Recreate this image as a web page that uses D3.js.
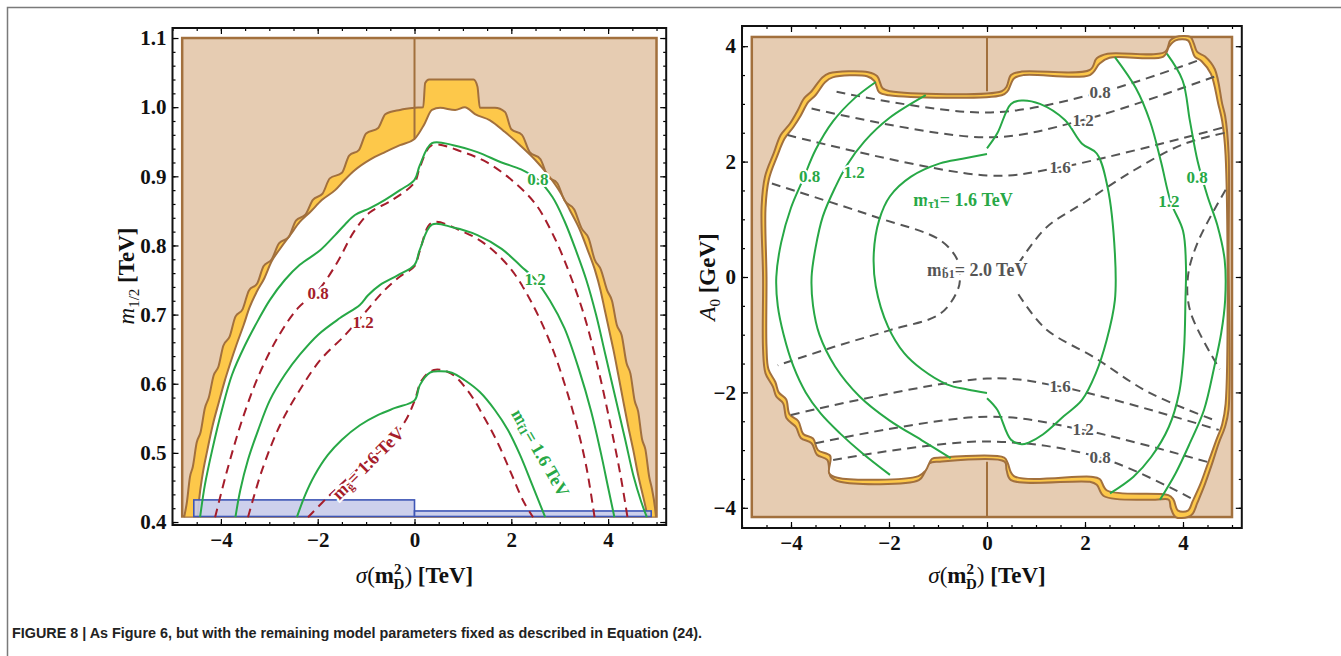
<!DOCTYPE html>
<html>
<head>
<meta charset="utf-8">
<script src="https://cdn.jsdelivr.net/npm/d3@7"></script>
<style>
  body { margin: 0; background: #fff; }
  svg { display: block; }
</style>
</head>
<body>
<div id="chart"></div>
<script>
// ---------- data: left panel (sigma(mD^2) vs m1/2) ----------
const leftXTicks = [-4, -2, 0, 2, 4];
const leftYTicks = [0.4, 0.5, 0.6, 0.7, 0.8, 0.9, 1.0, 1.1];

// excluded (brown) box, yellow band outer edge and inner edge
const leftBox = [[-4.8, 0.408], [5.0, 1.1]];
const leftOuter = [[-4.76,0.407],[-4.7,0.43],[-4.64,0.465],[-4.58,0.48],[-4.5,0.515],[-4.42,0.53],[-4.33,0.565],[-4.25,0.58],[-4.15,0.612],[-4.05,0.625],[-3.95,0.655],[-3.82,0.668],[-3.7,0.697],[-3.55,0.708],[-3.42,0.735],[-3.25,0.745],[-3.12,0.77],[-2.95,0.78],[-2.8,0.803],[-2.6,0.812],[-2.45,0.836],[-2.25,0.845],[-2.1,0.866],[-1.9,0.875],[-1.75,0.897],[-1.5,0.905],[-1.35,0.93],[-1.15,0.938],[-1.0,0.962],[-0.75,0.97],[-0.6,0.99],[-0.3,0.996],[0,0.999],[0.18,1.0],[0.22,1.035],[0.3,1.04],[1.22,1.04],[1.3,1.03],[1.35,0.999],[1.66,0.999],[1.87,0.993],[2.0,0.968],[2.22,0.96],[2.38,0.935],[2.6,0.925],[2.75,0.9],[2.95,0.89],[3.1,0.865],[3.3,0.852],[3.45,0.825],[3.6,0.81],[3.72,0.78],[3.85,0.765],[3.98,0.735],[4.08,0.72],[4.18,0.685],[4.28,0.67],[4.38,0.63],[4.46,0.615],[4.55,0.575],[4.62,0.56],[4.7,0.52],[4.77,0.505],[4.85,0.465],[4.9,0.45],[4.97,0.42],[4.99,0.407]];
const leftInner = [[-4.48,0.407],[-4.45,0.432],[-4.38,0.468],[-4.28,0.504],[-4.17,0.54],[-4.04,0.574],[-3.93,0.602],[-3.8,0.631],[-3.68,0.656],[-3.53,0.685],[-3.41,0.71],[-3.26,0.733],[-3.1,0.753],[-2.96,0.776],[-2.77,0.796],[-2.57,0.815],[-2.37,0.834],[-2.16,0.848],[-1.91,0.866],[-1.64,0.88],[-1.44,0.895],[-1.23,0.909],[-0.92,0.924],[-0.61,0.935],[-0.3,0.945],[0,0.954],[0.2,0.975],[0.36,0.996],[0.53,0.999],[0.84,0.996],[1.04,1.0],[1.25,0.99],[1.56,0.981],[1.87,0.964],[2.18,0.945],[2.49,0.924],[2.76,0.902],[3.01,0.877],[3.21,0.851],[3.42,0.822],[3.58,0.793],[3.73,0.764],[3.84,0.736],[3.93,0.707],[4.02,0.678],[4.11,0.649],[4.21,0.613],[4.31,0.576],[4.41,0.54],[4.52,0.504],[4.62,0.468],[4.74,0.432],[4.82,0.407]];
const leftZeroLine = [[0, 0.954], [0, 1.1]];

// blue band at the bottom
const leftBlue = [
  { x0: -4.56, x1: 0, y0: 0.408, y1: 0.432 },
  { x0: 0, x1: 4.89, y0: 0.408, y1: 0.416 }
];

// stop mass contours (green, solid)
const leftGreen08 = [[-4.43,0.407],[-4.33,0.454],[-4.18,0.504],[-3.98,0.562],[-3.77,0.613],[-3.5,0.656],[-3.23,0.692],[-2.99,0.721],[-2.68,0.75],[-2.37,0.772],[-1.95,0.793],[-1.64,0.815],[-1.44,0.83],[-1.23,0.844],[-0.92,0.854],[-0.61,0.866],[-0.3,0.88],[0,0.895],[0.11,0.916],[0.36,0.948],[0.8,0.945],[1.3,0.935],[1.8,0.92],[2.2,0.91],[2.55,0.895],[2.85,0.87],[3.1,0.835],[3.35,0.79],[3.55,0.75],[3.75,0.7],[3.95,0.64],[4.15,0.58],[4.35,0.52],[4.53,0.465],[4.68,0.43],[4.8,0.407]];
const leftGreen12 = [[-3.7,0.407],[-3.6,0.446],[-3.44,0.49],[-3.23,0.533],[-2.99,0.576],[-2.68,0.613],[-2.37,0.642],[-1.99,0.671],[-1.54,0.695],[-1.13,0.714],[-0.96,0.728],[-0.71,0.743],[-0.34,0.757],[0,0.772],[0.11,0.794],[0.36,0.83],[0.8,0.826],[1.3,0.815],[1.8,0.795],[2.2,0.77],[2.49,0.751],[2.8,0.72],[3.1,0.68],[3.4,0.62],[3.65,0.56],[3.85,0.5],[4.0,0.45],[4.13,0.407]];
const leftGreen16 = [[-2.43,0.407],[-2.26,0.439],[-2.06,0.468],[-1.79,0.497],[-1.5,0.519],[-1.13,0.54],[-0.75,0.555],[-0.4,0.565],[0,0.576],[0.11,0.598],[0.32,0.616],[0.53,0.618],[0.77,0.616],[1.04,0.605],[1.35,0.588],[1.66,0.562],[1.93,0.533],[2.18,0.497],[2.43,0.454],[2.7,0.407]];

// gluino mass contours (dark red, dashed)
const leftRed08 = [[-4.12,0.407],[-3.85,0.48],[-3.55,0.55],[-3.2,0.615],[-2.8,0.67],[-2.4,0.71],[-1.99,0.735],[-1.6,0.775],[-1.25,0.82],[-0.92,0.848],[-0.5,0.864],[0,0.891],[0.11,0.913],[0.36,0.945],[1.0,0.935],[1.5,0.92],[2.0,0.895],[2.5,0.86],[2.9,0.81],[3.2,0.76],[3.5,0.7],[3.8,0.62],[4.05,0.54],[4.25,0.47],[4.4,0.407]];
const leftRed12 = [[-3.44,0.407],[-3.15,0.475],[-2.78,0.54],[-2.37,0.591],[-1.95,0.634],[-1.44,0.67],[-1.06,0.7],[-0.61,0.736],[-0.3,0.755],[0,0.77],[0.11,0.792],[0.36,0.833],[1.0,0.82],[1.5,0.8],[2.0,0.765],[2.4,0.72],[2.8,0.66],[3.1,0.6],[3.35,0.54],[3.55,0.48],[3.72,0.407]];
const leftRed16 = [[-2.2,0.407],[-1.75,0.439],[-1.2,0.475],[-0.6,0.51],[-0.2,0.545],[0,0.575],[0.15,0.605],[0.4,0.62],[0.75,0.615],[1.1,0.59],[1.45,0.55],[1.75,0.51],[2.0,0.47],[2.25,0.43],[2.45,0.407]];

const leftLabels = [
  { x: 2.55, y: 0.895, text: "0.8", color: "green" },
  { x: 2.49, y: 0.751, text: "1.2", color: "green" },
  { x: -1.99, y: 0.731, text: "0.8", color: "red" },
  { x: -1.06, y: 0.689, text: "1.2", color: "red" }
];

// ---------- data: right panel (sigma(mD^2) vs A0) ----------
const rightXTicks = [-4, -2, 0, 2, 4];
const rightYTicks = [-4, -2, 0, 2, 4];
const rightBox = [[-4.8, -4.16], [5.0, 4.16]];
const rightOuter = [[-4.57,0.0],[-4.6,1.22],[-4.53,1.74],[-4.35,2.15],[-4.21,2.46],[-4.02,2.66],[-3.88,2.86],[-3.73,3.1],[-3.59,3.21],[-3.37,3.45],[-3.22,3.53],[-2.42,3.55],[-2.24,3.48],[-2.13,3.27],[-1.98,3.22],[0.3,3.22],[0.4,3.3],[0.49,3.5],[0.71,3.56],[2.1,3.59],[2.24,3.79],[2.46,3.87],[3.63,3.9],[3.74,4.1],[3.85,4.16],[4.15,4.16],[4.22,4.05],[4.29,3.9],[4.45,3.82],[4.65,3.6],[4.8,3.0],[4.86,2.79],[4.93,2.15],[4.93,0.4],[4.93,-2.3],[4.86,-2.59],[4.73,-2.88],[4.58,-3.27],[4.43,-3.63],[4.29,-3.92],[4.2,-4.1],[4.1,-4.16],[3.85,-4.16],[3.75,-4.0],[3.71,-3.86],[3.42,-3.86],[2.39,-3.8],[2.24,-3.6],[2.1,-3.55],[0.49,-3.52],[0.4,-3.35],[0.36,-3.2],[-0.96,-3.2],[-1.18,-3.23],[-1.28,-3.4],[-1.39,-3.52],[-3.0,-3.55],[-3.19,-3.46],[-3.26,-3.17],[-3.47,-3.08],[-3.58,-2.88],[-3.8,-2.79],[-3.9,-2.6],[-4.09,-2.45],[-4.16,-2.19],[-4.3,-2.07],[-4.37,-1.9],[-4.52,-1.67],[-4.57,-1.26]];
const rightInner = [[-4.5,0.0],[-4.52,1.2],[-4.45,1.7],[-4.28,2.1],[-4.13,2.4],[-3.95,2.6],[-3.8,2.8],[-3.65,3.03],[-3.5,3.15],[-3.3,3.38],[-3.15,3.46],[-2.45,3.48],[-2.3,3.4],[-2.2,3.2],[-2.0,3.15],[0.3,3.15],[0.42,3.22],[0.55,3.44],[0.75,3.5],[2.1,3.5],[2.3,3.7],[2.5,3.8],[3.6,3.82],[3.72,4.0],[3.85,4.1],[4.1,4.1],[4.18,3.95],[4.24,3.82],[4.38,3.74],[4.57,3.52],[4.72,3.0],[4.8,2.7],[4.87,2.1],[4.87,-2.2],[4.8,-2.55],[4.67,-2.85],[4.5,-3.25],[4.35,-3.6],[4.2,-3.88],[4.1,-4.05],[3.9,-4.05],[3.8,-3.85],[3.7,-3.78],[2.45,-3.7],[2.3,-3.5],[2.12,-3.46],[0.55,-3.45],[0.42,-3.22],[0.35,-3.13],[-0.95,-3.13],[-1.12,-3.15],[-1.25,-3.35],[-1.4,-3.45],[-3.05,-3.48],[-3.22,-3.4],[-3.2,-3.1],[-3.45,-3.0],[-3.55,-2.8],[-3.75,-2.72],[-3.85,-2.5],[-4.03,-2.38],[-4.1,-2.12],[-4.25,-2.0],[-4.32,-1.82],[-4.46,-1.6],[-4.5,-1.2]];
const rightZeroLines = [[[0, 3.22], [0, 4.16]], [[0, -4.16], [0, -3.2]]];

// stau mass contours (green, solid)
const rightGreen08L = [[-2.27,3.38],[-2.7,3.1],[-3.14,2.7],[-3.5,2.2],[-3.75,1.7],[-4.0,1.2],[-4.2,0.6],[-4.3,0.0],[-4.27,-0.5],[-4.15,-1.0],[-3.95,-1.55],[-3.7,-2.0],[-3.4,-2.36],[-3.0,-2.71],[-2.55,-3.05],[-1.98,-3.43]];
const rightGreen12L = [[-1.25,3.15],[-2.0,2.75],[-2.5,2.35],[-2.85,1.95],[-3.1,1.55],[-3.35,1.05],[-3.5,0.5],[-3.58,0.0],[-3.55,-0.5],[-3.42,-1.0],[-3.1,-1.55],[-2.6,-2.07],[-2.0,-2.48],[-1.33,-2.83],[-0.74,-3.14]];
const rightGreen16a = [[0,2.13],[-0.5,2.05],[-0.96,1.97],[-1.55,1.74],[-1.98,1.4],[-2.2,0.99],[-2.31,0.42],[-2.27,-0.16],[-2.02,-0.86],[-1.69,-1.32],[-1.33,-1.6],[-0.82,-1.86],[-0.4,-1.95],[0,-2.01]];
const rightGreen16b = [[0,-2.1],[0.21,-2.3],[0.49,-2.82],[0.71,-2.9],[0.85,-2.87],[1.14,-2.73],[1.57,-2.41],[1.94,-2.13],[2.22,-1.67],[2.44,-1.1],[2.61,-0.4],[2.61,0.41],[2.46,1.56],[2.24,2.14],[1.94,2.31],[1.59,2.72],[1.08,3.0],[0.71,3.06],[0.49,3.0],[0.21,2.49],[0,2.23]];
const rightGreen12R = [[2.61,3.81],[3.04,3.27],[3.33,2.69],[3.55,2.0],[3.75,1.3],[4.0,0.8],[4.06,0.2],[4.05,-0.4],[4.02,-1.26],[3.92,-2.01],[3.71,-2.6],[3.35,-3.12],[2.99,-3.46],[2.51,-3.75]];
const rightGreen08R = [[3.67,3.87],[3.99,3.41],[4.14,2.71],[4.3,2.0],[4.5,1.4],[4.7,0.9],[4.85,0.3],[4.86,-0.4],[4.78,-0.97],[4.64,-1.55],[4.43,-2.3],[4.14,-2.88],[3.85,-3.4],[3.53,-3.86]];

// sbottom mass contours (grey, dashed)
const rightGrey08U = [[-3.07,3.21],[0,2.85],[2.31,3.2],[4.3,3.75]];
const rightGrey12U = [[-3.58,2.92],[0,2.42],[1.96,2.72],[4.73,3.5]];
const rightGrey16U = [[-4.07,2.46],[0,1.76],[1.49,1.9],[4.86,2.6]];
const rightGrey16D = [[-4.0,-2.39],[0,-1.76],[1.49,-1.9],[4.73,-2.65]];
const rightGrey12D = [[-3.5,-2.88],[0,-2.42],[1.96,-2.65],[4.6,-3.23]];
const rightGrey08D = [[-3.14,-3.17],[0,-2.85],[2.31,-3.13],[4.22,-3.86]];
const rightGrey20L = [[-4.39,1.62],[-2.27,1.04],[-0.96,0.64],[-0.6,0.29],[-0.55,0.0],[-0.6,-0.23],[-0.96,-0.64],[-1.98,-0.92],[-3.12,-1.21],[-4.27,-1.53]];
const rightGrey20RU = [[0.64,0.23],[1.2,0.85],[2.0,1.3],[3.0,1.85],[4.0,2.3],[4.86,2.5]];
const rightGrey20RD = [[0.64,-0.3],[1.2,-0.9],[2.2,-1.4],[3.3,-2.0],[4.7,-2.5]];
const rightGrey20R = [[4.87,1.51],[4.3,0.6],[4.1,0.0],[4.15,-0.6],[4.75,-1.6]];

const rightLabels = [
  { x: -3.62, y: 1.74, text: "0.8", color: "green" },
  { x: -2.71, y: 1.81, text: "1.2", color: "green" },
  { x: 3.71, y: 1.3, text: "1.2", color: "green" },
  { x: 4.29, y: 1.73, text: "0.8", color: "green" },
  { x: 2.31, y: 3.2, text: "0.8", color: "grey" },
  { x: 1.96, y: 2.72, text: "1.2", color: "grey" },
  { x: 1.49, y: 1.9, text: "1.6", color: "grey" },
  { x: 1.49, y: -1.9, text: "1.6", color: "grey" },
  { x: 1.96, y: -2.65, text: "1.2", color: "grey" },
  { x: 2.31, y: -3.13, text: "0.8", color: "grey" }
];

// ---------- styles ----------
const col = {
  brown: "#e6ccb2", brownLine: "#a2703d", band: "#fdc84a",
  green: "#27a846", red: "#a51d2b", grey: "#555555",
  blueFill: "#c8cbea", blueLine: "#3e56b6"
};
const serif = "'Liberation Serif', 'DejaVu Serif', serif";

const width = 1341, height = 656;
const svg = d3.select("#chart").append("svg")
  .attr("width", width).attr("height", height)
  .attr("viewBox", [0, 0, width, height]);

// outer figure border
svg.append("path")
  .attr("d", "M7.5,656V7.5H1341")
  .attr("fill", "none").attr("stroke", "#7a7a7a").attr("stroke-width", 1.5);

function makePanel(opt) {
  const x = d3.scaleLinear().domain([-5, 5.2]).range(opt.xRange);
  const y = d3.scaleLinear().domain(opt.yDomain).range(opt.yRange);
  const g = svg.append("g");
  const line = d3.line().x(d => x(d[0])).y(d => y(d[1]));
  return { x, y, g, line };
}

function drawAxes(p, xTicks, yTicks, xMinor, yMinor, yFmt) {
  const [x0, x1] = p.x.range(), [yb, yt] = p.y.range();
  const axes = p.g.append("g");
  const put = (ax, tx, ty) => {
    const a = axes.append("g").attr("transform", `translate(${tx},${ty})`).call(ax);
    a.select(".domain").remove();
    a.selectAll("line").attr("stroke", "#000").attr("stroke-width", 1.2);
    return a;
  };
  // minor ticks
  put(d3.axisBottom(p.x).tickValues(xMinor).tickSize(-3).tickFormat(""), 0, yb);
  put(d3.axisTop(p.x).tickValues(xMinor).tickSize(-3).tickFormat(""), 0, yt);
  put(d3.axisLeft(p.y).tickValues(yMinor).tickSize(-3).tickFormat(""), x0, 0);
  put(d3.axisRight(p.y).tickValues(yMinor).tickSize(-3).tickFormat(""), x1, 0);
  // major ticks
  const bx = put(d3.axisBottom(p.x).tickValues(xTicks).tickSize(-6).tickPadding(7).tickFormat(d3.format("d")), 0, yb);
  put(d3.axisTop(p.x).tickValues(xTicks).tickSize(-6).tickFormat(""), 0, yt);
  const ly = put(d3.axisLeft(p.y).tickValues(yTicks).tickSize(-6).tickPadding(6).tickFormat(yFmt), x0, 0);
  put(d3.axisRight(p.y).tickValues(yTicks).tickSize(-6).tickFormat(""), x1, 0);
  [bx, ly].forEach(a => a.selectAll("text")
    .attr("font-family", serif).attr("font-weight", "bold")
    .attr("font-size", 21).attr("fill", "#111"));
  // frame
  axes.append("rect")
    .attr("x", x0).attr("y", yt).attr("width", x1 - x0).attr("height", yb - yt)
    .attr("fill", "none").attr("stroke", "#111").attr("stroke-width", 2);
}

function contour(p, data, color, dashed, w) {
  p.g.append("path")
    .datum(data)
    .attr("d", p.line.curve(d3.curveCatmullRom.alpha(0.5)))
    .attr("fill", "none")
    .attr("stroke", color)
    .attr("stroke-width", w || 2)
    .attr("stroke-dasharray", dashed ? "9,6" : null);
}

function label(p, d, color, size) {
  return p.g.append("text")
    .attr("x", p.x(d.x)).attr("y", p.y(d.y))
    .attr("text-anchor", "middle").attr("dominant-baseline", "central")
    .attr("font-family", serif).attr("font-weight", "bold")
    .attr("font-size", size || 17).attr("fill", color)
    .attr("stroke", "#fff").attr("stroke-width", 4).attr("paint-order", "stroke")
    .text(d.text);
}

function massLabel(p, cx, cy, rot, color, sub, value) {
  const t = p.g.append("text")
    .attr("transform", `translate(${p.x(cx)},${p.y(cy)}) rotate(${rot})`)
    .attr("text-anchor", "middle").attr("dominant-baseline", "central")
    .attr("font-family", serif).attr("font-weight", "bold").attr("font-size", 18)
    .attr("fill", color).attr("stroke", "#fff").attr("stroke-width", 4).attr("paint-order", "stroke");
  t.append("tspan").text("m");
  t.append("tspan").attr("font-size", 12).attr("dy", 4).text(sub);
  t.append("tspan").attr("dy", -4).text("= " + value + " TeV");
}

// ================= LEFT PANEL =================
const L = makePanel({ xRange: [172.5, 666.2], yDomain: [0.3957, 1.1145], yRange: [525, 28] });

L.g.append("rect")
  .attr("x", L.x(leftBox[0][0])).attr("y", L.y(leftBox[1][1]))
  .attr("width", L.x(leftBox[1][0]) - L.x(leftBox[0][0]))
  .attr("height", L.y(leftBox[0][1]) - L.y(leftBox[1][1]))
  .attr("fill", col.brown).attr("stroke", col.brownLine).attr("stroke-width", 2.5);

const leftArea = d3.area().x(d => L.x(d[0])).y0(L.y(0.408)).y1(d => L.y(d[1])).curve(d3.curveMonotoneX);
const leftEdge = d3.line().x(d => L.x(d[0])).y(d => L.y(d[1])).curve(d3.curveMonotoneX);
L.g.append("path").datum(leftOuter).attr("d", leftArea).attr("fill", col.band);
L.g.append("path").datum(leftInner).attr("d", leftArea).attr("fill", "#fff");
L.g.append("path").datum(leftZeroLine).attr("d", L.line.curve(d3.curveLinear))
  .attr("stroke", col.brownLine).attr("stroke-width", 2);
[leftOuter, leftInner].forEach(e => L.g.append("path").datum(e).attr("d", leftEdge)
  .attr("fill", "none").attr("stroke", col.brownLine).attr("stroke-width", 2));

// blue band
L.g.selectAll(".blue").data(leftBlue).join("rect")
  .attr("class", "blue")
  .attr("x", d => L.x(d.x0)).attr("y", d => L.y(d.y1))
  .attr("width", d => L.x(d.x1) - L.x(d.x0))
  .attr("height", d => L.y(d.y0) - L.y(d.y1))
  .attr("fill", col.blueFill).attr("fill-opacity", 0.9)
  .attr("stroke", col.blueLine).attr("stroke-width", 1.6);

[leftRed08, leftRed12, leftRed16].forEach(d => contour(L, d, col.red, true));
[leftGreen08, leftGreen12, leftGreen16].forEach(d => contour(L, d, col.green, false));

leftLabels.forEach(d => label(L, d, d.color === "green" ? col.green : col.red));
massLabel(L, -0.96, 0.485, -45, col.red, "g\u0303", "1.6");
massLabel(L, 2.6, 0.5, 60, col.green, "t\u03031", "1.6");

drawAxes(L, leftXTicks, leftYTicks, d3.range(-5, 5.01, 0.5), d3.range(0.4, 1.111, 0.02), d3.format(".1f"));

// ================= RIGHT PANEL =================
const R = makePanel({ xRange: [742, 1241.8], yDomain: [-4.35, 4.35], yRange: [528, 26] });

R.g.append("rect")
  .attr("x", R.x(rightBox[0][0])).attr("y", R.y(rightBox[1][1]))
  .attr("width", R.x(rightBox[1][0]) - R.x(rightBox[0][0]))
  .attr("height", R.y(rightBox[0][1]) - R.y(rightBox[1][1]))
  .attr("fill", col.brown).attr("stroke", col.brownLine).attr("stroke-width", 2.5);

const closed = d3.line().x(d => R.x(d[0])).y(d => R.y(d[1])).curve(d3.curveCatmullRomClosed.alpha(0.5));
R.g.append("path").datum(rightOuter).attr("d", closed)
  .attr("fill", col.band).attr("stroke", col.brownLine).attr("stroke-width", 2);
rightZeroLines.forEach(z => R.g.append("path").datum(z).attr("d", R.line.curve(d3.curveLinear))
  .attr("stroke", col.brownLine).attr("stroke-width", 2));
R.g.append("path").datum(rightInner).attr("d", closed)
  .attr("fill", "#fff").attr("stroke", col.brownLine).attr("stroke-width", 2);

[rightGrey08U, rightGrey12U, rightGrey16U, rightGrey16D, rightGrey12D, rightGrey08D,
 rightGrey20L, rightGrey20RU, rightGrey20RD, rightGrey20R].forEach(d => contour(R, d, col.grey, true));
[rightGreen08L, rightGreen12L, rightGreen16a, rightGreen16b, rightGreen12R, rightGreen08R]
  .forEach(d => contour(R, d, col.green, false));

rightLabels.forEach(d => label(R, d, d.color === "green" ? col.green : col.grey));
massLabel(R, -0.49, 1.33, 0, col.green, "\u03C4\u03031", "1.6");
massLabel(R, -0.2, 0.12, 0, col.grey, "b\u03031", "2.0");

drawAxes(R, rightXTicks, rightYTicks, d3.range(-5, 5.01, 0.5), d3.range(-4, 4.01, 0.5), d3.format("d"));

// ---------- axis titles ----------
function xTitle(cx) {
  const t = svg.append("text").attr("x", cx).attr("y", 583)
    .attr("text-anchor", "middle").attr("font-family", serif).attr("font-size", 23).attr("fill", "#111");
  t.append("tspan").attr("font-style", "italic").text("\u03C3");
  t.append("tspan").text("(");
  t.append("tspan").attr("font-weight", "bold").text("m");
  t.append("tspan").attr("font-weight", "bold").attr("font-size", 15).attr("dy", -9).text("2");
  t.append("tspan").attr("font-weight", "bold").attr("font-size", 15).attr("dx", -8).attr("dy", 15).text("D");
  t.append("tspan").attr("dy", -6).text(")");
  t.append("tspan").attr("font-weight", "bold").text(" [TeV]");
}
xTitle(L.x(0));
xTitle(R.x(0));

function yTitle(cx, cy, main, sub, unit) {
  const t = svg.append("text").attr("transform", `translate(${cx},${cy}) rotate(-90)`)
    .attr("text-anchor", "middle").attr("font-family", serif).attr("font-size", 23).attr("fill", "#111");
  t.append("tspan").attr("font-style", "italic").text(main);
  t.append("tspan").attr("font-size", 15).attr("dy", 5).text(sub);
  t.append("tspan").attr("font-weight", "bold").attr("dy", -5).text(" " + unit);
}
yTitle(134, 276, "m", "1/2", "[TeV]");
yTitle(715, 277, "A", "0", "[GeV]");

// ---------- caption ----------
svg.append("text").attr("x", 12).attr("y", 638)
  .attr("font-family", "'Liberation Sans Narrow', 'Liberation Sans', Arial, sans-serif")
  .attr("font-weight", "bold").attr("font-size", 15).attr("fill", "#222")
  .attr("textLength", 690).attr("lengthAdjust", "spacingAndGlyphs")
  .text("FIGURE 8 | As Figure 6, but with the remaining model parameters fixed as described in Equation (24).");
</script>
</body>
</html>
